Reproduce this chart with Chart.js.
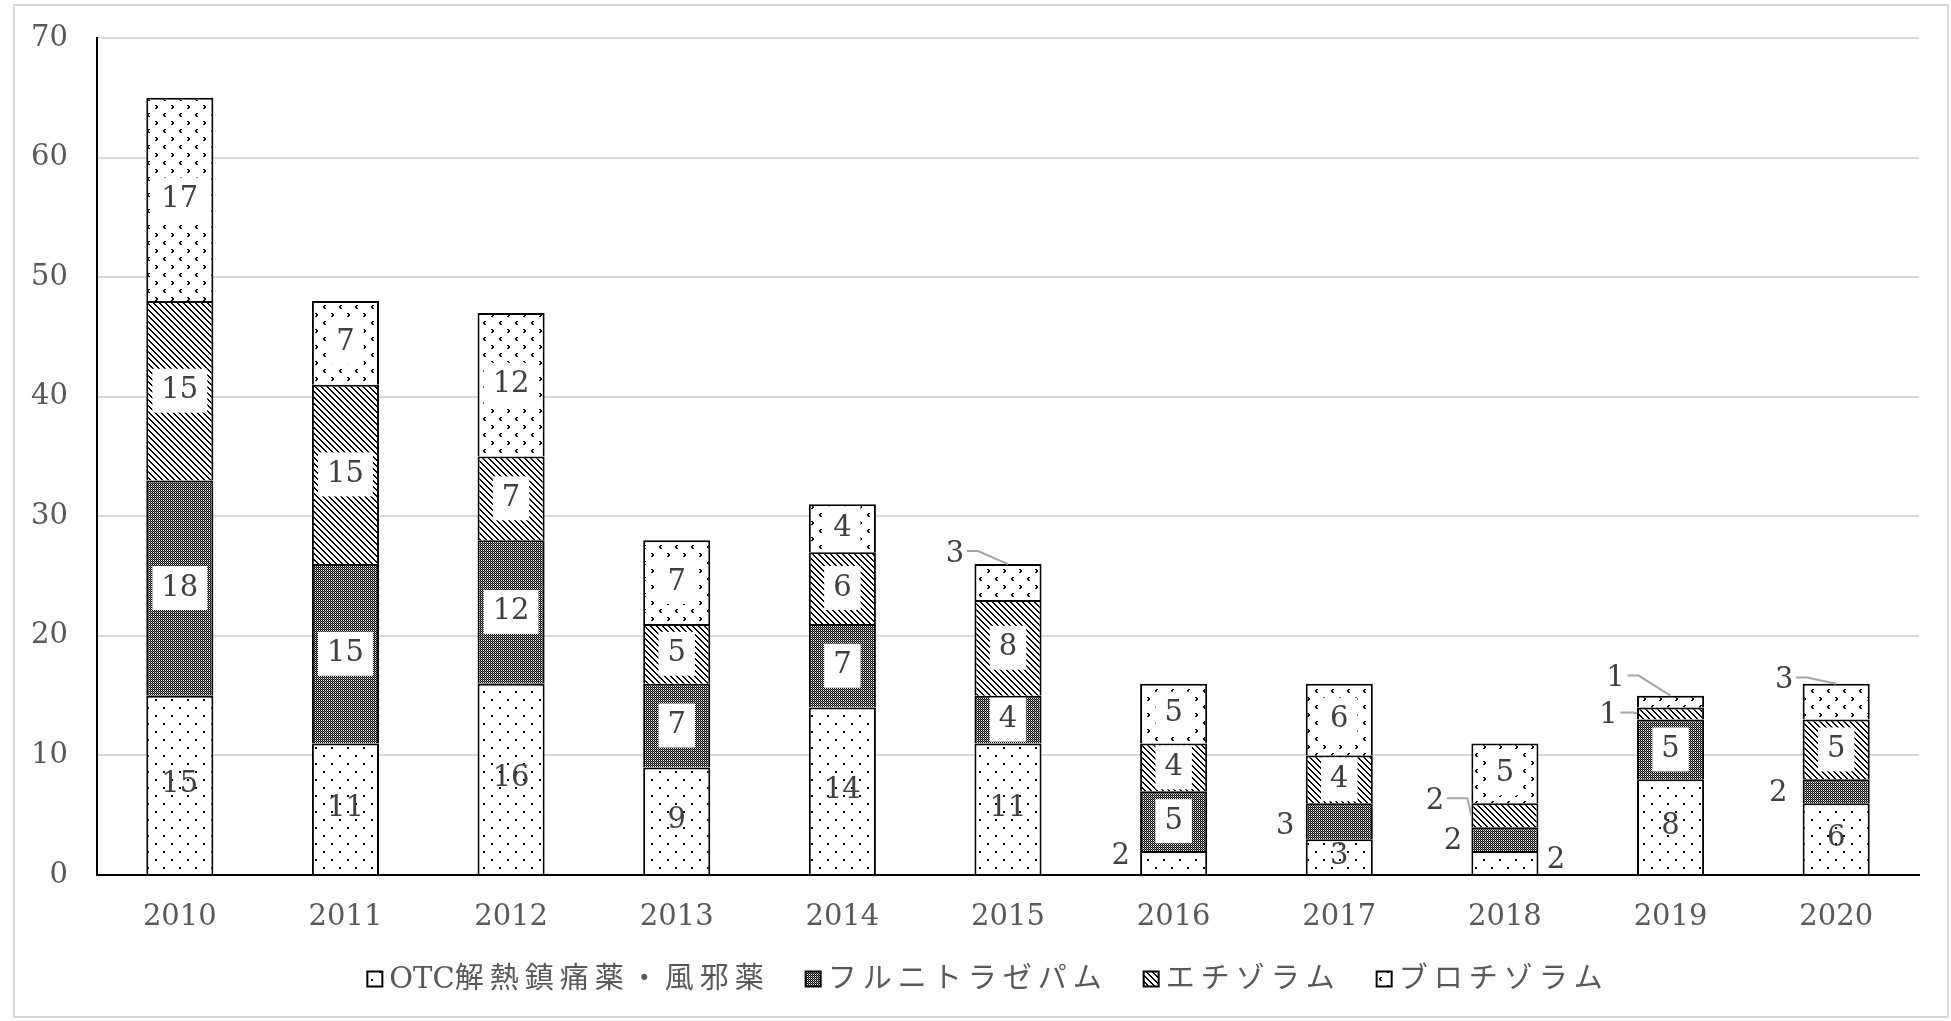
<!DOCTYPE html>
<html lang="ja">
<head>
<meta charset="UTF-8">
<title>乱用薬物の推移</title>
<script src="https://cdn.jsdelivr.net/npm/chart.js@4.4.1/dist/chart.umd.min.js"></script>
<style>
  html, body { margin: 0; padding: 0; background: #fff; }
  .frame { position: absolute; left: 13px; top: 4px; width: 1936px; height: 1014px; border: 2px solid #d9d9d9; box-sizing: border-box; }
  .wrap { position: absolute; left: 0; top: 0; width: 1951px; height: 1021px; }
</style>
</head>
<body>
<div class="frame"></div>
<div class="wrap"><canvas id="chart"></canvas></div>
<script>
// data
const years = ['2010', '2011', '2012', '2013', '2014', '2015', '2016', '2017', '2018', '2019', '2020'];
const seriesNames = ['OTC解熱鎮痛薬・風邪薬', 'フルニトラゼパム', 'エチゾラム', 'ブロチゾラム'];
const otcValues = [15, 11, 16, 9, 14, 11, 2, 3, 2, 8, 6];
const flunitrazepamValues = [18, 15, 12, 7, 7, 4, 5, 3, 2, 5, 2];
const etizolamValues = [15, 15, 7, 5, 6, 8, 4, 4, 2, 1, 5];
const brotizolamValues = [17, 7, 12, 7, 4, 3, 5, 6, 5, 1, 3];
const yTicks = [0, 10, 20, 30, 40, 50, 60, 70];

const NUM_FAMILY = '"DejaVu Serif", "Liberation Serif", serif';
const NUM_SIZE = 29;
const NUM_FONT = NUM_SIZE + 'px ' + NUM_FAMILY;
const LEGEND_FONT = '29px "DejaVu Serif", "Noto Sans CJK JP", sans-serif';
const TEXT_COLOR = '#595959';
const LABEL_COLOR = '#404040';

// labels that sit outside their segment (dataset:index -> offset from segment centre)
const outsideLabels = {
  '3:5': { dx: -53, dy: -28, line: 'top' },
  '0:6': { dx: -53, dy: -6 },
  '1:7': { dx: -54, dy: 5 },
  '2:8': { dx: -70, dy: -14, line: 'side' },
  '1:8': { dx: -52, dy: 2 },
  '0:8': { dx: 51, dy: -2 },
  '3:9': { dx: -55, dy: -23, line: 'top' },
  '2:9': { dx: -62, dy: 2, line: 'side' },
  '3:10': { dx: -52, dy: -21, line: 'top' },
  '1:10': { dx: -58, dy: 2 }
};

const canvas = document.getElementById('chart');
const ctx = canvas.getContext('2d');

function makePattern(size, draw) {
  const c = document.createElement('canvas');
  c.width = size; c.height = size;
  const g = c.getContext('2d');
  g.fillStyle = '#fff';
  g.fillRect(0, 0, size, size);
  g.fillStyle = '#000';
  draw(g, size);
  return ctx.createPattern(c, 'repeat');
}

function chevron(g, x, y, dir) {
  // 4px tall "<" (dir -1) or ">" (dir 1), 2px strokes
  const offs = [1, 0, 0, 1];
  offs.forEach((o, r) => g.fillRect(dir < 0 ? x + o : x + 1 - o, y + r, 2, 1));
}

const patterns = [
  // sparse dots
  makePattern(16, g => { g.fillRect(3, 3, 2, 2); g.fillRect(11, 11, 2, 2); }),
  // fine checker, dark
  makePattern(2, g => {
    g.fillRect(0, 0, 1, 1); g.fillRect(1, 1, 1, 1);
    g.fillStyle = '#707070'; g.fillRect(0, 1, 1, 1);
  }),
  // downward diagonal
  makePattern(6, (g, s) => { for (let y = 0; y < s; y++) { g.fillRect(y, y, 1, 1); g.fillRect((y + 1) % s, y, 1, 1); } }),
  // small chevrons
  makePattern(16, g => { chevron(g, 3, 1, -1); chevron(g, 11, 9, 1); })
];

const allValues = [otcValues, flunitrazepamValues, etizolamValues, brotizolamValues];

const segLabels = {
  id: 'segLabels',
  afterDatasetsDraw(chart) {
    const c = chart.ctx;
    c.save();
    c.font = NUM_FONT;
    c.textAlign = 'center';
    c.textBaseline = 'middle';
    chart.data.datasets.forEach((ds, d) => {
      const meta = chart.getDatasetMeta(d);
      meta.data.forEach((bar, i) => {
        const v = String(ds.data[i]);
        const cy = (bar.y + bar.base) / 2;
        const out = outsideLabels[d + ':' + i];
        if (out) {
          const lx = bar.x + out.dx, ly = cy + out.dy;
          if (out.line) {
            c.strokeStyle = '#a6a6a6';
            c.lineWidth = 2;
            c.beginPath();
            c.moveTo(lx + 12, ly - 3);
            if (out.line === 'top') {
              c.lineTo(lx + 23, ly - 3);
              c.lineTo(bar.x, bar.y);
            } else {
              const left = bar.x - bar.width / 2;
              c.lineTo(left - 4, ly - 3);
              c.lineTo(left, cy);
            }
            c.stroke();
          }
          c.fillStyle = LABEL_COLOR;
          c.fillText(v, lx, ly);
        } else {
          const w = c.measureText(v).width;
          if (d !== 0) {
            c.fillStyle = '#fff';
            c.fillRect(bar.x - w / 2 - 9, cy - 22, w + 18, 44);
          }
          c.fillStyle = LABEL_COLOR;
          c.fillText(v, bar.x, cy);
        }
      });
    });
    c.restore();
  }
};

// spacing only between CJK characters, latin letters stay tight
function spacedText(c, text, x, y, draw) {
  let w = 0;
  for (const ch of text) {
    if (draw) c.fillText(ch, x + w, y);
    w += c.measureText(ch).width + (ch.charCodeAt(0) > 255 ? 6 : 0);
  }
  return w;
}

const patternLegend = {
  id: 'patternLegend',
  afterDraw(chart) {
    const c = chart.ctx;
    c.save();
    c.font = LEGEND_FONT;
    c.textAlign = 'left';
    c.textBaseline = 'middle';
    const box = 15, gapText = 7, gapItem = 36;
    const widths = seriesNames.map(n => spacedText(c, n, 0, 0, false));
    const total = widths.reduce((a, b) => a + b, 0) + seriesNames.length * (box + gapText) + gapItem * (seriesNames.length - 1);
    let x = 988 - total / 2;
    const y = 979;
    seriesNames.forEach((name, k) => {
      c.fillStyle = patterns[k];
      c.fillRect(x, y - box / 2, box, box);
      c.strokeStyle = '#000';
      c.lineWidth = 2;
      c.strokeRect(x, y - box / 2, box, box);
      c.fillStyle = TEXT_COLOR;
      spacedText(c, name, x + box + gapText, y + 1, true);
      x += box + gapText + widths[k] + gapItem;
    });
    c.restore();
  }
};

new Chart(canvas, {
  type: 'bar',
  data: {
    labels: years,
    datasets: seriesNames.map((name, k) => ({
      label: name,
      data: allValues[k],
      backgroundColor: patterns[k],
      borderColor: '#000',
      borderWidth: 2,
      barPercentage: 0.81,
      categoryPercentage: 0.5
    }))
  },
  options: {
    responsive: true,
    maintainAspectRatio: false,
    animation: false,
    devicePixelRatio: 1,
    layout: { padding: { top: 38, right: 32, bottom: 86, left: 0 } },
    plugins: {
      legend: { display: false },
      tooltip: { enabled: false }
    },
    scales: {
      x: {
        stacked: true,
        z: 1,
        grid: { display: false, drawTicks: false },
        border: { color: '#000', width: 2 },
        ticks: { font: { family: NUM_FAMILY, size: NUM_SIZE }, color: TEXT_COLOR, padding: 25 },
        afterFit: s => { s.height = 60; }
      },
      y: {
        stacked: true,
        min: 0,
        max: 70,
        afterBuildTicks: s => { s.ticks = yTicks.map(v => ({ value: v })); },
        grid: { color: '#d9d9d9', lineWidth: 2, drawTicks: false },
        border: { color: '#000', width: 2 },
        ticks: { font: { family: NUM_FAMILY, size: NUM_SIZE }, color: TEXT_COLOR, padding: 29 },
        afterFit: s => { s.width = 97; s.paddingTop = 0; s.paddingBottom = 0; }
      }
    }
  },
  plugins: [segLabels, patternLegend]
});
</script>
</body>
</html>
